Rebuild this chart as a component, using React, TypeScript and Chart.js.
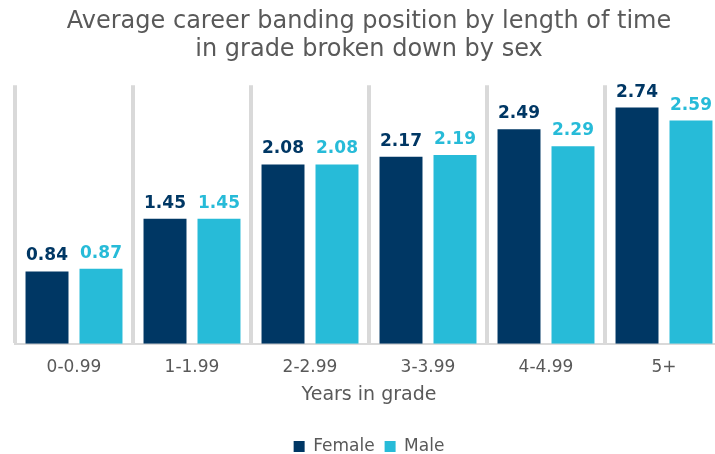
import React, { useEffect, useRef } from "react";
import { Chart, registerables } from "chart.js";

Chart.register(...registerables);

const categories = ["0-0.99", "1-1.99", "2-2.99", "3-3.99", "4-4.99", "5+"];
const femaleValues = [0.84, 1.45, 2.08, 2.17, 2.49, 2.74];
const maleValues = [0.87, 1.45, 2.08, 2.19, 2.29, 2.59];
const titleLines = [
  "Average career banding position by length of time",
  "in grade broken down by sex",
];

const NAVY = "#003764";
const CYAN = "#27BBD8";
const GREY_TEXT = "#595959";
const FONT = "'DejaVu Sans', Verdana, sans-serif";

const valueLabels = {
  id: "valueLabels",
  afterDatasetsDraw(chart: any) {
    const ctx = chart.ctx;
    ctx.save();
    ctx.font = `bold 17px ${FONT}`;
    ctx.textAlign = "center";
    ctx.textBaseline = "alphabetic";
    chart.data.datasets.forEach((ds: any, i: number) => {
      const meta = chart.getDatasetMeta(i);
      ctx.fillStyle = ds.backgroundColor;
      meta.data.forEach((bar: any, j: number) => {
        ctx.fillText(ds.data[j].toFixed(2), bar.x, bar.y - 11);
      });
    });
    ctx.restore();
  },
};

export default function App() {
  const ref = useRef<HTMLCanvasElement>(null);
  useEffect(() => {
    if (!ref.current) return;
    const chart = new Chart(ref.current, {
      type: "bar",
      data: {
        labels: categories,
        datasets: [
          {
            label: "Female",
            data: femaleValues,
            backgroundColor: NAVY,
            categoryPercentage: 0.915,
            barPercentage: 0.796,
          },
          {
            label: "Male",
            data: maleValues,
            backgroundColor: CYAN,
            categoryPercentage: 0.915,
            barPercentage: 0.796,
          },
        ],
      },
      options: {
        animation: false,
        responsive: false,
        layout: { padding: { left: 15, right: 7, top: 8, bottom: -11 } },
        plugins: {
          title: {
            display: true,
            text: titleLines,
            color: GREY_TEXT,
            font: { family: FONT, size: 24, weight: "normal", lineHeight: 1.17 },
            padding: { top: 0, bottom: 21 },
          },
          legend: {
            position: "bottom",
            labels: {
              color: GREY_TEXT,
              font: { family: FONT, size: 17 },
              boxWidth: 11,
              boxHeight: 11,
              padding: 10,
            },
          },
          tooltip: { enabled: false },
        },
        scales: {
          x: {
            grid: {
              display: true,
              color: "#d9d9d9",
              lineWidth: 4,
              drawTicks: false,
              offset: true,
            },
            border: { display: true, color: "#d9d9d9", width: 2 },
            ticks: {
              color: GREY_TEXT,
              font: { family: FONT, size: 17 },
              padding: 14,
            },
            title: {
              display: true,
              text: "Years in grade",
              color: GREY_TEXT,
              font: { family: FONT, size: 19 },
              padding: { top: -9, bottom: 22 },
            },
          },
          y: {
            display: false,
            min: 0,
            max: 3,
          },
        },
      },
      plugins: [valueLabels],
    });
    return () => chart.destroy();
  }, []);
  return (
    <div style={{ position: "fixed", left: 0, top: 0, width: 730, height: 454, background: "#fff" }}>
      <canvas ref={ref} width={730} height={454} style={{ width: 730, height: 454 }} />
    </div>
  );
}
